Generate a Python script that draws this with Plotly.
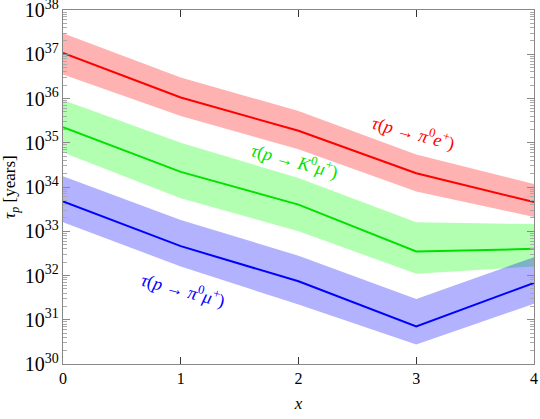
import math
import plotly.graph_objects as go

# valores (anos)
x = [0, 1, 2, 3, 4]

e_mid = [1.07e37, 1.05e36, 1.86e35, 2.04e34, 4.57e33]
e_hi = [3.0e37, 3.0e36, 5.2e35, 5.4e34, 1.17e34]
e_lo = [3.5e36, 4.0e35, 7.1e34, 7.9e33, 2.1e33]

k_mid = [2.24e35, 2.2e34, 4.0e33, 3.5e32, 4.0e32]
k_hi = [9.3e35, 1.0e35, 1.6e34, 1.6e33, 1.45e33]
k_lo = [6.0e34, 5.6e33, 1.0e33, 1.1e32, 1.6e32]

mu_mid = [4.7e33, 4.6e32, 7.4e31, 7.1e30, 6.8e31]
mu_hi = [1.74e34, 1.8e33, 2.8e32, 2.95e31, 2.6e32]
mu_lo = [1.6e33, 1.6e32, 2.2e31, 2.75e30, 2.3e31]

etiquetas = ["<i>τ</i>(<i>p</i> → <i>π</i><sup>0</sup><i>e</i><sup>+</sup>)",
             "<i>τ</i>(<i>p</i> → <i>K</i><sup>0</sup><i>μ</i><sup>+</sup>)",
             "<i>τ</i>(<i>p</i> → <i>π</i><sup>0</sup><i>μ</i><sup>+</sup>)"]
pos_etiquetas = [(2.98, 1.7e35), (1.97, 3.8e34), (1.02, 4.6e31)]

series = [
    (e_mid, e_hi, e_lo, "rgb(255,0,0)", "rgba(255,0,0,0.3)"),
    (k_mid, k_hi, k_lo, "rgb(0,225,0)", "rgba(0,255,0,0.3)"),
    (mu_mid, mu_hi, mu_lo, "rgb(0,0,255)", "rgba(0,0,255,0.3)"),
]

fig = go.Figure()

# bandas
for mid, hi, lo, col, banda in series:
    fig.add_trace(go.Scatter(x=x, y=lo, mode="lines", line=dict(width=0), showlegend=False, hoverinfo="skip"))
    fig.add_trace(go.Scatter(x=x, y=hi, mode="lines", line=dict(width=0), fill="tonexty", fillcolor=banda,
                             showlegend=False, hoverinfo="skip"))

# lineas centrales
for mid, hi, lo, col, banda in series:
    fig.add_trace(go.Scatter(x=x, y=mid, mode="lines", line=dict(color=col, width=2), showlegend=False))

for (px, py), txt, s in zip(pos_etiquetas, etiquetas, series):
    fig.add_annotation(x=px, y=math.log10(py), text=txt, showarrow=False, textangle=15,
                       font=dict(family="Liberation Serif", size=18, color=s[3]))

fig.update_layout(
    width=540, height=419,
    margin=dict(l=63, r=6, t=10, b=55),
    plot_bgcolor="white", paper_bgcolor="white",
    font=dict(family="Liberation Serif", size=16, color="black"),
)
fig.update_xaxes(range=[0, 4], dtick=1, showline=True, linecolor="#888888", linewidth=1, mirror="ticks",
                 ticks="inside", ticklen=7, tickcolor="#333333", showgrid=False, zeroline=False,
                 automargin=False, ticklabeloverflow="allow",
                 title=dict(text="<i>x</i>", standoff=10, font=dict(size=17)))
fig.update_yaxes(type="log", range=[30, 38], dtick=1, exponentformat="power", showline=True,
                 linecolor="#888888", linewidth=1, mirror="ticks", ticks="inside", ticklen=7,
                 tickcolor="#888888", showgrid=False, zeroline=False,
                 automargin=False, ticklabeloverflow="allow",
                 minor=dict(ticks="inside", ticklen=4, tickcolor="#aaaaaa", showgrid=False),
                 title=dict(text="<i>τ<sub>p</sub></i> [years]", standoff=4, font=dict(size=17)))

# quitar el margen del body para que la figura quede en (0, 0)
fig.write_html("out.html", config={"displayModeBar": False},
               post_script="document.body.style.margin='0';")
